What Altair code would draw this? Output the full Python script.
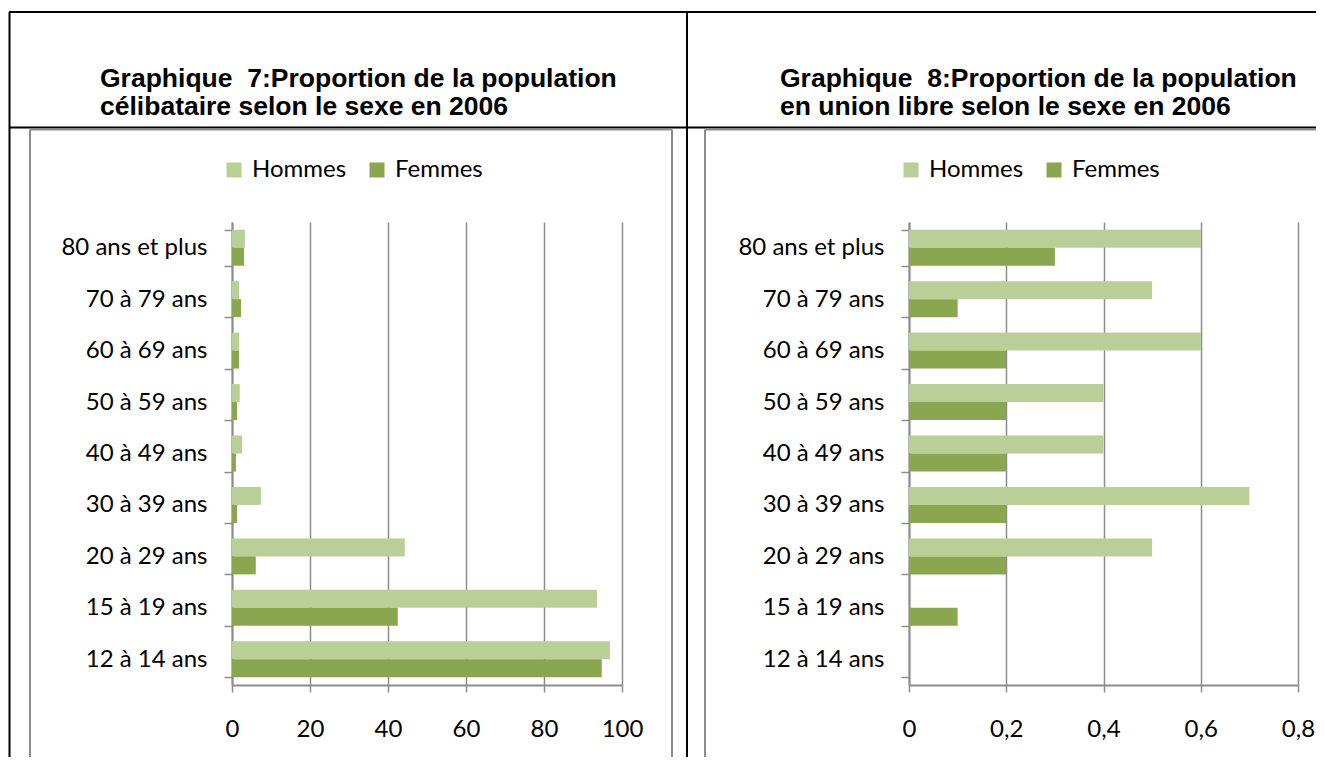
import altair as alt
import pandas as pd

# ---- data ----
ages = ["80 ans et plus", "70 à 79 ans", "60 à 69 ans", "50 à 59 ans", "40 à 49 ans",
        "30 à 39 ans", "20 à 29 ans", "15 à 19 ans", "12 à 14 ans"]
sexes = ["Hommes", "Femmes"]
celib_hommes = [3.3, 1.8, 1.8, 2.0, 2.6, 7.4, 44.3, 93.6, 96.9]
celib_femmes = [3.1, 2.3, 1.8, 1.3, 1.0, 1.3, 6.1, 42.5, 94.8]
union_hommes = [0.6, 0.5, 0.6, 0.4, 0.4, 0.7, 0.5, 0.0, 0.0]
union_femmes = [0.3, 0.1, 0.2, 0.2, 0.2, 0.2, 0.2, 0.1, 0.0]
ticks_celib = [0, 20, 40, 60, 80, 100]
ticks_union = [0, 0.2, 0.4, 0.6, 0.8]
titre7 = ["Graphique\u00a0 7:Proportion de la population", "célibataire selon le sexe en 2006"]
titre8 = ["Graphique\u00a0 8:Proportion de la population", "en union libre selon le sexe en 2006"]
couleurs = ["#BACF97", "#8AA64F"]

GRAY = "#8c8c8c"
FONT = "Lato"
FS = 24


def long_table(h, f):
    rows = []
    for a, vh, vf in zip(ages, h, f):
        rows.append({"age": a, "sexe": sexes[0], "valeur": vh})
        rows.append({"age": a, "sexe": sexes[1], "valeur": vf})
    return pd.DataFrame(rows)


df7 = long_table(celib_hommes, celib_femmes)
df8 = long_table(union_hommes, union_femmes)
one = pd.DataFrame({"k": [0]})


def y_enc(offset):
    return alt.Y(
        "age:N", sort=ages,
        scale=alt.Scale(paddingInner=0.3, paddingOuter=0.15),
        axis=alt.Axis(title=None, orient="left", offset=offset, grid=False,
                      domainColor=GRAY, domainWidth=2, tickColor=GRAY, tickWidth=1.5,
                      tickSize=8, tickBand="extent", labelFont=FONT, labelFontSize=FS,
                      labelColor="black", labelPadding=17, labelLimit=400),
    )


def x_axis(values, expr=None):
    kw = dict(title=None, orient="bottom", values=values, grid=True, gridColor=GRAY,
              gridWidth=1.5, domainColor=GRAY, domainWidth=2, tickColor=GRAY,
              tickWidth=1.5, tickSize=7, labelFont=FONT, labelFontSize=FS,
              labelColor="black", labelPadding=25, labelFlush=False, labelOverlap=False)
    if expr:
        kw["labelExpr"] = expr
    return alt.Axis(**kw)


def legend(lx, ly):
    return alt.Legend(title=None, orient="none", legendX=lx, legendY=ly,
                      direction="horizontal", symbolType="square", symbolSize=225,
                      symbolStrokeWidth=0, symbolOpacity=1, labelFont=FONT,
                      labelFontSize=FS, labelColor="black", labelOffset=6,
                      columnPadding=18, padding=0, labelLimit=300)


bars7 = alt.Chart(df7).mark_bar().encode(
    x=alt.X("valeur:Q", scale=alt.Scale(domain=[0, 100], range=[0, 390], nice=False),
            axis=x_axis(ticks_celib)),
    y=y_enc(0),
    yOffset=alt.YOffset("sexe:N", sort=sexes),
    color=alt.Color("sexe:N", sort=sexes,
                    scale=alt.Scale(domain=sexes, range=couleurs), legend=legend(-10, -64)),
)

bars8 = alt.Chart(df8).mark_bar().encode(
    x=alt.X("valeur:Q", scale=alt.Scale(domain=[0, 0.8], range=[677, 1066], nice=False),
            axis=x_axis(ticks_union,
                        "datum.value == 0 ? '0' : replace(format(datum.value, '.1f'), '.', ',')")),
    y=y_enc(-677),
    yOffset=alt.YOffset("sexe:N", sort=sexes),
    color=alt.Color("sexe:N", sort=sexes,
                    scale=alt.Scale(domain=sexes, range=couleurs), legend=legend(667, -64)),
)


def rule(x1, y1, x2, y2, color, w):
    return alt.Chart(one).mark_rule(color=color, strokeWidth=w).encode(
        x=alt.value(x1), x2=alt.value(x2), y=alt.value(y1), y2=alt.value(y2))


def text(x, y, s):
    return alt.Chart(one).mark_text(
        align="left", baseline="alphabetic", font="Liberation Sans", fontSize=26.5,
        fontWeight="bold", color="black").encode(
        x=alt.value(x), y=alt.value(y), text=alt.value(s))


deco = [
    # table borders (black)
    rule(-223, -210, 1100, -210, "black", 2),
    rule(-222.5, -210, -222.5, 560, "black", 2),
    rule(-223, -94.5, 1100, -94.5, "black", 2),
    rule(455, -210, 455, 560, "black", 2),
    # chart frames (gray)
    rule(-202, -92.5, -202, 560, GRAY, 2),
    rule(-202, -92.5, 440, -92.5, GRAY, 2),
    rule(440, -92.5, 440, 560, GRAY, 2),
    rule(473, -92.5, 473, 560, GRAY, 2),
    rule(473, -92.5, 1100, -92.5, GRAY, 2),
    # titles
    text(-132, -135, titre7[0]),
    text(-132, -107, titre7[1]),
    text(548, -135, titre8[0]),
    text(548, -107, titre8[1]),
]

chart = alt.layer(*deco, bars7, bars8).resolve_scale(
    x="independent", y="independent", color="independent"
).properties(
    width=1070, height=463,
    padding={"left": 224, "top": 214, "right": 14, "bottom": 72},
    autosize=alt.AutoSizeParams(type="none"),
).configure_view(strokeWidth=0)

chart.save("out.html", embed_options={"renderer": "svg", "actions": False})
